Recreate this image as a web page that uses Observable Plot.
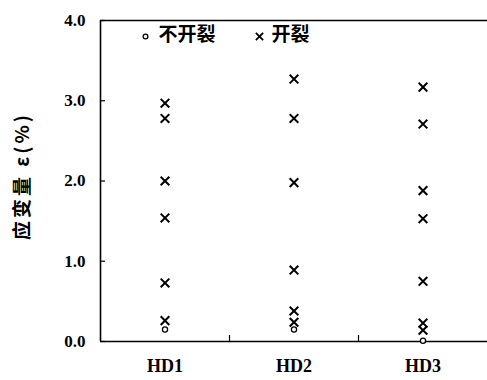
<!DOCTYPE html>
<html>
<head>
<meta charset="utf-8">
<script src="https://cdn.jsdelivr.net/npm/d3@7"></script>
<script src="https://cdn.jsdelivr.net/npm/@observablehq/plot@0.6"></script>
<style>
  html, body { margin: 0; padding: 0; background: #fff; }
  #chart svg { display: block; }
</style>
</head>
<body>
<div id="chart"></div>
<script>
const categories = ["HD1", "HD2", "HD3"];
// 开裂 (cracked) strain values, %
const crackHD1 = [2.97, 2.78, 2.0, 1.54, 0.73, 0.26];
const crackHD2 = [3.27, 2.78, 1.98, 0.89, 0.38, 0.24];
const crackHD3 = [3.17, 2.71, 1.88, 1.53, 0.75, 0.23, 0.14];
// 不开裂 (not cracked) strain values, %
const noCrackHD1 = [0.15];
const noCrackHD2 = [0.15];
const noCrackHD3 = [0.01];
const yTicks = [0, 1, 2, 3, 4];
const legendLabels = ["不开裂", "开裂"];
const yLabel = "应变量 ε(%)";

const crack = [crackHD1, crackHD2, crackHD3].flatMap((vals, i) =>
  vals.map(v => ({cat: categories[i], xi: i + 1, v})));
const noCrack = [noCrackHD1, noCrackHD2, noCrackHD3].flatMap((vals, i) =>
  vals.map(v => ({cat: categories[i], xi: i + 1, v})));
const xDomain = [0.5, categories.length + 0.5];
const boundaries = d3.range(1.5, categories.length, 1);

const serif = "'Liberation Serif', 'Times New Roman', serif";
const cjk = "'Noto Sans CJK SC', sans-serif";

const plot = Plot.plot({
  width: 487,
  height: 380,
  marginLeft: 100,
  marginRight: 0,
  marginTop: 20,
  marginBottom: 39,
  style: {background: "#fff", color: "#000"},
  x: {domain: xDomain, axis: null},
  y: {domain: [0, 4], axis: null},
  marks: [
    // frame lines: left, top, bottom
    Plot.ruleX([xDomain[0]], {stroke: "#000", strokeWidth: 1.6}),
    Plot.ruleY([0, 4], {stroke: "#000", strokeWidth: 1.6}),
    // y tick marks (inward) and labels
    Plot.axisY({ticks: yTicks, tickSize: -5, fill: "none", label: null, stroke: "#000", strokeWidth: 1.2}),
    Plot.axisY({ticks: yTicks, tickSize: 0, tickPadding: 15, label: null,
      tickFormat: d => d.toFixed(1),
      fontSize: 17, fontWeight: "bold", fontFamily: serif}),
    // x boundary ticks (inward) and category labels
    Plot.axisX({ticks: boundaries, tickSize: -6, fill: "none", label: null, stroke: "#000", strokeWidth: 1.2}),
    Plot.axisX({ticks: categories.map((c, i) => i + 1), tickSize: 0, tickPadding: 18, label: null,
      tickFormat: i => categories[i - 1],
      fontSize: 18, fontWeight: "bold", fontFamily: serif}),
    // y axis title
    Plot.text([yLabel], {frameAnchor: "left", dx: -78, dy: -5, rotate: -90, text: d => d,
      textAnchor: "middle", lineAnchor: "middle",
      fontSize: 19, fontWeight: "bold", fontFamily: cjk, fill: "#000"}),
    // data
    Plot.dot(noCrack, {x: "xi", y: "v", symbol: "circle", r: 2.6, stroke: "#000", fill: "#fff", strokeWidth: 1.3}),
    Plot.dot(crack, {x: "xi", y: "v", symbol: "times", r: 4.0, stroke: "#000", strokeWidth: 2}),
    // legend
    Plot.dot([legendLabels[0]], {frameAnchor: "top-left", dx: 45, dy: 16, symbol: "circle", r: 2.4, stroke: "#000", fill: "#fff", strokeWidth: 1.3}),
    Plot.text([legendLabels[0]], {frameAnchor: "top-left", dx: 58, dy: 14, text: d => d,
      textAnchor: "start", lineAnchor: "middle",
      fontSize: 19, fontWeight: "bold", fontFamily: cjk, fill: "#000"}),
    Plot.dot([legendLabels[1]], {frameAnchor: "top-left", dx: 159, dy: 16, symbol: "times", r: 3.4, stroke: "#000", strokeWidth: 1.8}),
    Plot.text([legendLabels[1]], {frameAnchor: "top-left", dx: 171, dy: 14, text: d => d,
      textAnchor: "start", lineAnchor: "middle",
      fontSize: 19, fontWeight: "bold", fontFamily: cjk, fill: "#000"})
  ]
});
// widen the y-axis title's letter spacing
d3.select(plot).selectAll("text").filter(function () { return this.textContent === yLabel; })
  .style("letter-spacing", "3px");
document.getElementById("chart").appendChild(plot);
</script>
</body>
</html>
